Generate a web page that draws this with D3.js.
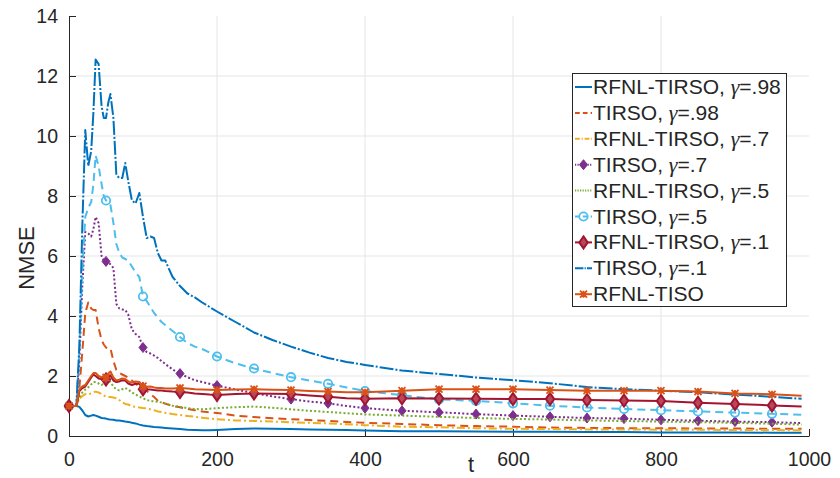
<!DOCTYPE html>
<html>
<head>
<meta charset="utf-8">
<script src="https://cdn.jsdelivr.net/npm/d3@7"></script>
<style>
body { margin: 0; background: #fff; }
text { font-family: "Liberation Sans", Arial, sans-serif; fill: #262626; }
</style>
</head>
<body>
<div id="chart"></div>
<script>
// time samples (shared by every series)
var tGrid = [0, 10, 14, 18, 22, 26, 30, 33, 36, 40, 44, 47, 50, 53, 56, 60, 64, 68, 72, 76, 80, 85, 90, 95,
  100, 105, 110, 115, 120, 125, 130, 140, 150, 160, 170, 180, 190, 200, 225, 250, 275, 300, 325, 350, 375,
  400, 450, 500, 550, 600, 650, 700, 750, 800, 850, 900, 950, 990];

// NMSE
var rfnlTirso98 = [1, 1, 0.97, 0.85, 0.7, 0.65, 0.68, 0.7, 0.68, 0.64, 0.6, 0.59, 0.58, 0.56, 0.55, 0.54, 0.52, 0.52, 0.5, 0.48, 0.47, 0.44, 0.42, 0.38,
  0.35, 0.33, 0.32, 0.3, 0.29, 0.28, 0.27, 0.25, 0.23, 0.21, 0.2, 0.19, 0.19, 0.2, 0.23, 0.25, 0.24, 0.23, 0.22, 0.21, 0.2,
  0.18, 0.16, 0.16, 0.15, 0.14, 0.14, 0.13, 0.13, 0.12, 0.12, 0.12, 0.11, 0.11];
var tirso98 = [1, 1, 1.6, 2.8, 4.1, 4.45, 4.25, 4.2, 4.2, 3.6, 3.2, 3.05, 2.95, 2.92, 2.92, 2.5, 2.2, 2.1, 2.05, 2.0, 1.95, 1.85, 1.75, 1.65,
  1.58, 1.5, 1.4, 1.3, 1.18, 1.12, 1.08, 1.0, 0.96, 0.9, 0.86, 0.82, 0.79, 0.77, 0.68, 0.63, 0.59, 0.56, 0.53, 0.5, 0.47,
  0.44, 0.4, 0.36, 0.33, 0.31, 0.28, 0.27, 0.26, 0.26, 0.25, 0.25, 0.24, 0.24];
var rfnlTirso7 = [1, 1, 1.25, 1.33, 1.4, 1.38, 1.42, 1.46, 1.48, 1.45, 1.4, 1.35, 1.31, 1.3, 1.3, 1.28, 1.26, 1.2, 1.12, 1.07, 1.05, 0.99, 0.97, 0.95,
  0.93, 0.92, 0.89, 0.86, 0.82, 0.8, 0.77, 0.73, 0.7, 0.67, 0.64, 0.61, 0.58, 0.56, 0.52, 0.5, 0.48, 0.46, 0.44, 0.42, 0.39,
  0.36, 0.31, 0.29, 0.26, 0.24, 0.23, 0.22, 0.22, 0.21, 0.21, 0.2, 0.2, 0.19];
var tirso7 = [1, 1, 2.5, 5.0, 6.8, 6.75, 6.65, 6.9, 7.3, 7.1, 6.0, 5.85, 5.82, 5.8, 5.72, 5.6, 4.4, 4.25, 4.22, 4.2, 4.05, 3.55, 3.4, 3.3,
  2.95, 2.8, 2.75, 2.68, 2.6, 2.5, 2.4, 2.22, 2.08, 1.96, 1.86, 1.8, 1.74, 1.68, 1.55, 1.43, 1.32, 1.23, 1.15, 1.09, 1.0,
  0.93, 0.84, 0.79, 0.73, 0.68, 0.64, 0.6, 0.58, 0.54, 0.51, 0.48, 0.46, 0.43];
var rfnlTirso5 = [1, 1, 1.3, 1.45, 1.55, 1.62, 1.72, 1.8, 1.8, 1.75, 1.7, 1.75, 1.8, 1.82, 1.8, 1.65, 1.55, 1.52, 1.56, 1.6, 1.55, 1.45, 1.38, 1.32,
  1.26, 1.2, 1.17, 1.15, 1.14, 1.12, 1.08, 1.01, 0.97, 0.93, 0.9, 0.89, 0.91, 0.93, 0.96, 0.98, 0.94, 0.89, 0.84, 0.8, 0.76,
  0.72, 0.68, 0.64, 0.6, 0.57, 0.55, 0.52, 0.5, 0.48, 0.46, 0.44, 0.41, 0.38];
var tirso5 = [1, 1, 2.8, 5.5, 7.3, 7.6, 7.8, 8.4, 9.35, 9.0, 8.4, 8.0, 7.85, 7.82, 7.7, 7.1, 6.4, 6.1, 5.95, 5.9, 5.85, 5.65, 5.45, 5.3,
  4.65, 4.5, 4.3, 4.1, 3.95, 3.8, 3.7, 3.5, 3.3, 3.1, 2.98, 2.9, 2.78, 2.65, 2.42, 2.25, 2.1, 1.96, 1.85, 1.74, 1.62,
  1.5, 1.36, 1.22, 1.17, 1.09, 1.01, 0.95, 0.9, 0.86, 0.82, 0.78, 0.74, 0.71];
var rfnlTirso1 = [1, 1, 1.5, 1.6, 1.65, 1.8, 1.95, 2.05, 2.0, 1.92, 1.9, 1.95, 1.88, 1.97, 2.02, 1.85, 1.8, 1.82, 1.86, 1.85, 1.75, 1.7, 1.74, 1.75,
  1.56, 1.55, 1.55, 1.53, 1.52, 1.52, 1.5, 1.48, 1.47, 1.45, 1.42, 1.4, 1.38, 1.37, 1.4, 1.42, 1.41, 1.4, 1.35, 1.31, 1.26,
  1.24, 1.26, 1.25, 1.24, 1.23, 1.23, 1.2, 1.18, 1.17, 1.11, 1.07, 1.02, 0.98];
var tirso1 = [1, 1, 3.0, 7.0, 10.2, 9.0, 9.5, 10.8, 12.55, 12.4, 11.0, 10.6, 10.6, 11.1, 11.4, 10.6, 8.7, 8.6, 8.6, 9.1, 8.5, 7.85, 7.75, 8.1,
  7.3, 6.6, 6.65, 6.6, 6.1, 5.85, 5.85, 5.3, 5.0, 4.75, 4.62, 4.45, 4.3, 4.15, 3.8, 3.45, 3.2, 2.98, 2.78, 2.6, 2.47,
  2.37, 2.18, 2.07, 1.95, 1.86, 1.76, 1.63, 1.56, 1.51, 1.46, 1.38, 1.31, 1.24];
var rfnlTiso = [1, 1, 1.55, 1.65, 1.7, 1.85, 2.0, 2.1, 2.1, 2.0, 1.95, 2.0, 1.95, 2.08, 2.15, 1.95, 1.85, 1.88, 1.92, 1.9, 1.82, 1.78, 1.82, 1.8,
  1.66, 1.64, 1.65, 1.62, 1.6, 1.6, 1.58, 1.58, 1.6, 1.58, 1.56, 1.55, 1.54, 1.53, 1.55, 1.56, 1.54, 1.53, 1.5, 1.48, 1.46,
  1.46, 1.51, 1.56, 1.56, 1.56, 1.53, 1.51, 1.51, 1.51, 1.48, 1.42, 1.39, 1.34];

var seriesValues = [rfnlTirso98, tirso98, rfnlTirso7, tirso7, rfnlTirso5, tirso5, rfnlTirso1, tirso1, rfnlTiso];
var seriesNames = [
  ["RFNL-TIRSO, ", ".98"], ["TIRSO, ", ".98"], ["RFNL-TIRSO, ", ".7"], ["TIRSO, ", ".7"],
  ["RFNL-TIRSO, ", ".5"], ["TIRSO, ", ".5"], ["RFNL-TIRSO, ", ".1"], ["TIRSO, ", ".1"], ["RFNL-TISO", null]
];
var xTicks = [0, 200, 400, 600, 800, 1000];
var yTicks = [0, 2, 4, 6, 8, 10, 12, 14];

// line look for each series
var styles = [
  {color: "#0072BD", dash: null, marker: null},
  {color: "#D95319", dash: "8,5", marker: null},
  {color: "#EDB120", dash: "8,3,2,3", marker: null},
  {color: "#7E2F8E", dash: "2,2.2", marker: "fdiamond"},
  {color: "#77AC30", dash: "2,2.2", marker: null},
  {color: "#4DBEEE", dash: "8,5", marker: "circle"},
  {color: "#A2142F", dash: null, marker: "diamond"},
  {color: "#0072BD", dash: "14,2,2,2", marker: null},
  {color: "#D95319", dash: null, marker: "star"}
];

var svgWidth = 840, svgHeight = 478;
var margin = {top: 16, right: 31, bottom: 42, left: 69};
var chartWidth = svgWidth - margin.left - margin.right;
var chartHeight = svgHeight - margin.top - margin.bottom;

var svg = d3.select("#chart").append("svg")
  .attr("width", svgWidth)
  .attr("height", svgHeight);

var chartGroup = svg.append("g")
  .attr("transform", `translate(${margin.left}, ${margin.top})`);

var x = d3.scaleLinear().domain([0, 1000]).range([0, chartWidth]);
var y = d3.scaleLinear().domain([0, 14]).range([chartHeight, 0]);

// grid
chartGroup.append("g").selectAll("line")
  .data(xTicks.slice(1, -1)).enter().append("line")
  .attr("x1", d => x(d)).attr("x2", d => x(d))
  .attr("y1", 0).attr("y2", chartHeight)
  .attr("stroke", "#e5e5e5").attr("stroke-width", 1);
chartGroup.append("g").selectAll("line")
  .data(yTicks.slice(1, -1)).enter().append("line")
  .attr("x1", 0).attr("x2", chartWidth)
  .attr("y1", d => y(d)).attr("y2", d => y(d))
  .attr("stroke", "#e5e5e5").attr("stroke-width", 1);

// axes, ticks point inward
var xAxis = d3.axisBottom(x).tickValues(xTicks).tickFormat(d3.format("d"))
  .tickSizeInner(-7).tickSizeOuter(0).tickPadding(16);
var yAxis = d3.axisLeft(y).tickValues(yTicks).tickFormat(d3.format("d"))
  .tickSizeInner(-7).tickSizeOuter(0).tickPadding(11);

var gx = chartGroup.append("g")
  .attr("transform", `translate(0, ${chartHeight})`)
  .call(xAxis);
var gy = chartGroup.append("g").call(yAxis);
[gx, gy].forEach(function(g) {
  g.select(".domain").attr("stroke", "#262626").attr("stroke-width", 1);
  g.selectAll(".tick line").attr("stroke", "#262626");
  g.selectAll(".tick text").attr("font-size", 19.5).attr("fill", "#262626")
    .attr("font-family", "Liberation Sans, Arial, sans-serif");
});

// axis titles
svg.append("text")
  .attr("transform", "translate(34, 258) rotate(-90)")
  .attr("text-anchor", "middle")
  .attr("font-size", 22)
  .text("NMSE");
svg.append("text")
  .attr("x", 471).attr("y", 472)
  .attr("text-anchor", "middle")
  .attr("font-size", 22)
  .text("t");

var line = d3.line()
  .x((d, i) => x(tGrid[i]))
  .y(d => y(d));

function drawMarker(g, kind, color, cx, cy) {
  if (kind === "circle") {
    g.append("circle").attr("cx", cx).attr("cy", cy).attr("r", 4.2)
      .attr("fill", "none").attr("stroke", color).attr("stroke-width", 1.8);
  } else if (kind === "diamond") {
    g.append("path").attr("d", `M${cx},${cy - 6}L${cx + 4.2},${cy}L${cx},${cy + 6}L${cx - 4.2},${cy}Z`)
      .attr("fill", "#b8475c").attr("stroke", color).attr("stroke-width", 2);
  } else if (kind === "fdiamond") {
    g.append("path").attr("d", `M${cx},${cy - 5}L${cx + 4},${cy}L${cx},${cy + 5}L${cx - 4},${cy}Z`)
      .attr("fill", color).attr("stroke", color).attr("stroke-width", 1);
  } else if (kind === "star") {
    var s = 3.5;
    g.append("path")
      .attr("d", `M${cx - s},${cy - s}L${cx + s},${cy + s}M${cx - s},${cy + s}L${cx + s},${cy - s}M${cx - s},${cy}L${cx + s},${cy}M${cx},${cy - s}L${cx},${cy + s}`)
      .attr("stroke", color).attr("stroke-width", 1.8).attr("fill", "none");
  }
}

seriesValues.forEach(function(vals, k) {
  var st = styles[k];
  var g = chartGroup.append("g");
  g.append("path")
    .attr("d", line(vals))
    .attr("fill", "none")
    .attr("stroke", st.color)
    .attr("stroke-width", 2)
    .attr("stroke-linejoin", "round")
    .attr("stroke-dasharray", st.dash);
  if (st.marker) {
    vals.forEach(function(v, i) {
      if (tGrid[i] % 50 === 0) drawMarker(g, st.marker, st.color, x(tGrid[i]), y(v));
    });
  }
});

// legend
var legend = svg.append("g");
legend.append("rect")
  .attr("x", 572.5).attr("y", 73.5).attr("width", 214).attr("height", 233)
  .attr("fill", "#fff").attr("stroke", "#262626").attr("stroke-width", 1);
seriesNames.forEach(function(nm, k) {
  var st = styles[k];
  var cy = 87 + k * 25.9;
  legend.append("line")
    .attr("x1", 575).attr("x2", 592).attr("y1", cy).attr("y2", cy)
    .attr("stroke", st.color).attr("stroke-width", 2)
    .attr("stroke-dasharray", st.dash ? st.dash.split(",").map(v => v * 0.6).join(",") : null);
  if (st.marker) drawMarker(legend, st.marker, st.color, 583.5, cy);
  var t = legend.append("text")
    .attr("x", 593).attr("y", cy + 7)
    .attr("font-size", 21);
  t.append("tspan").text(nm[0]);
  if (nm[1] !== null) {
    t.append("tspan").attr("font-family", "Liberation Serif, serif").attr("font-style", "italic").attr("font-size", 22).text("\u03b3");
    t.append("tspan").text("=" + nm[1]);
  }
});
</script>
</body>
</html>
